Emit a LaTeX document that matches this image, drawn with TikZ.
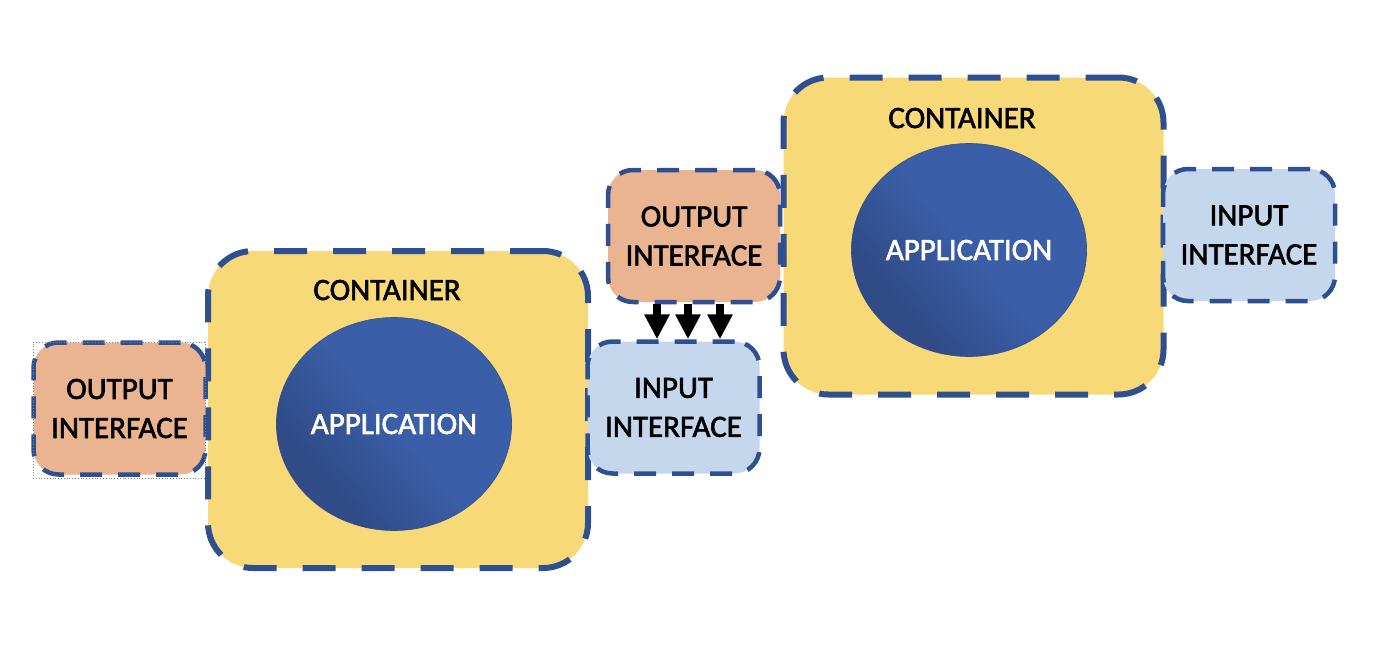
\documentclass[tikz,border=0pt]{standalone}
\usepackage{fontspec}
\setmainfont{Carlito}
\newfontfamily\lblfont{Carlito}[FakeBold=2]
\usetikzlibrary{arrows.meta,shapes.geometric,calc}
\definecolor{contfill}{HTML}{F8D978}
\definecolor{outfill}{HTML}{E9B48F}
\definecolor{infill}{HTML}{C5D7EC}
\definecolor{dashblue}{HTML}{2E5090}
\definecolor{appblue}{HTML}{3A5EA8}
\definecolor{appdark}{HTML}{304B86}
\pgfdeclareverticalshading{appshade}{100bp}{color(0bp)=(appdark); color(30bp)=(appdark); color(50bp)=(appblue); color(100bp)=(appblue)}
\tikzset{
  container/.style={draw=dashblue, fill=contfill, line width=6pt, dash pattern=on 33pt off 26pt,
    rounded corners=45pt, minimum width=380pt, minimum height=317pt, inner sep=0pt},
  iface/.style={draw=dashblue, line width=4.5pt, dash pattern=on 22pt off 16pt,
    rounded corners=25pt, minimum width=172pt, minimum height=132pt, inner sep=0pt,
    align=center, font=\lblfont\fontsize{31}{39}\selectfont, text=black},
  outbox/.style={iface, fill=outfill},
  inbox/.style={iface, fill=infill},
  app/.style={ellipse, draw=appblue!85!black, line width=0.6pt, minimum width=227pt, minimum height=213pt,
    inner sep=0pt, shading=appshade, shading angle=-50,
    text=white, font=\lblfont\fontsize{31}{39}\selectfont},
  clabel/.style={anchor=base, inner sep=0pt, font=\lblfont\fontsize{31}{39}\selectfont, text=black},
  arr/.style={line width=8pt, -{Triangle[width=24pt,length=25pt]}, black}
}
\begin{document}
\begin{tikzpicture}[x=1pt,y=-1pt]
\useasboundingbox (0,0) rectangle (1400,648);
% containers
\node[container] (cL) at (398,409.5) {};
\node[container] (cR) at (973.5,236) {};
\node[app] (appL) at (394,424) {APPLICATION};
\node[app] (appR) at (969,250) {APPLICATION};
\node[clabel] (tL) at (387,300) {CONTAINER};
\node[clabel] (tR) at (962,128) {CONTAINER};
% interfaces
\node[outbox] (oL) at (119.5,408.5) {OUTPUT\\INTERFACE};
\node[draw=gray, dotted, line width=0.8pt, minimum width=172pt, minimum height=136pt, inner sep=0pt] (sel) at (119,410) {};
\node[outbox] (mout) at (694,236) {OUTPUT\\INTERFACE};
\node[inbox] (min) at (673.5,407.5) {INPUT\\INTERFACE};
\node[inbox] (rin) at (1249,235) {INPUT\\INTERFACE};
% arrows
\coordinate (a1) at (657,0);
\coordinate (a2) at (688,0);
\coordinate (a3) at (720,0);
\draw[arr] (mout.south -| a1) -- (min.north -| a1);
\draw[arr] (mout.south -| a2) -- (min.north -| a2);
\draw[arr] (mout.south -| a3) -- (min.north -| a3);
\end{tikzpicture}
\end{document}
